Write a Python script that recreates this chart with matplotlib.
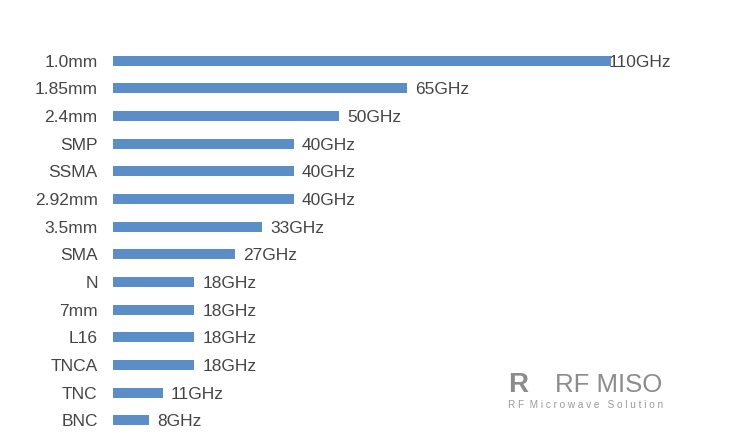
import matplotlib.pyplot as plt

plt.rcParams['font.family'] = ['Liberation Sans', 'DejaVu Sans']

# connector types and their max frequency (GHz), top to bottom
connectors = ["1.0mm", "1.85mm", "2.4mm", "SMP", "SSMA", "2.92mm", "3.5mm",
              "SMA", "N", "7mm", "L16", "TNCA", "TNC", "BNC"]
freq_ghz = [110, 65, 50, 40, 40, 40, 33, 27, 18, 18, 18, 18, 11, 8]

bar_color = "#5b8ec6"
text_color = "#454545"

fig = plt.figure(figsize=(7.3, 4.4), dpi=100)
ax = fig.add_axes([113 / 730, 1 - 434 / 440, (611 - 113) / 730, (434 - 47) / 440])

ypos = list(range(len(connectors)))
ax.barh(ypos, freq_ghz, height=0.36, color=bar_color)

for y, v in zip(ypos, freq_ghz):
    # the longest bar's label sits right on the bar end in the original
    dx = -2 if v == max(freq_ghz) else 5.5
    ax.annotate(f"{v}GHz", xy=(v, y), xytext=(dx, 0), textcoords="offset points",
                va="center_baseline", ha="left", fontsize=12.5, color=text_color)

ax.set_xlim(0, 110)
ax.set_ylim(len(connectors) - 0.5, -0.5)
ax.set_yticks(ypos)
ax.set_yticklabels(connectors, fontsize=12.5, color=text_color)
ax.tick_params(axis="y", length=0, pad=11)
ax.set_xticks([])
for s in ax.spines.values():
    s.set_visible(False)

# watermark logo text
fig.text(508 / 730, 1 - 385 / 440, "R", fontsize=20, fontweight="bold",
         color="#8c8c8c", ha="left", va="center")
fig.text(555 / 730, 1 - 385 / 440, "RF MISO", fontsize=18.5, color="#8c8c8c",
         ha="left", va="center")
fig.text(508 / 730, 1 - 405 / 440, "R F  M i c r o w a v e   S o l u t i o n",
         fontsize=7.2, color="#9a9a9a", ha="left", va="center")

plt.savefig("out.png", dpi=100)
plt.close()
